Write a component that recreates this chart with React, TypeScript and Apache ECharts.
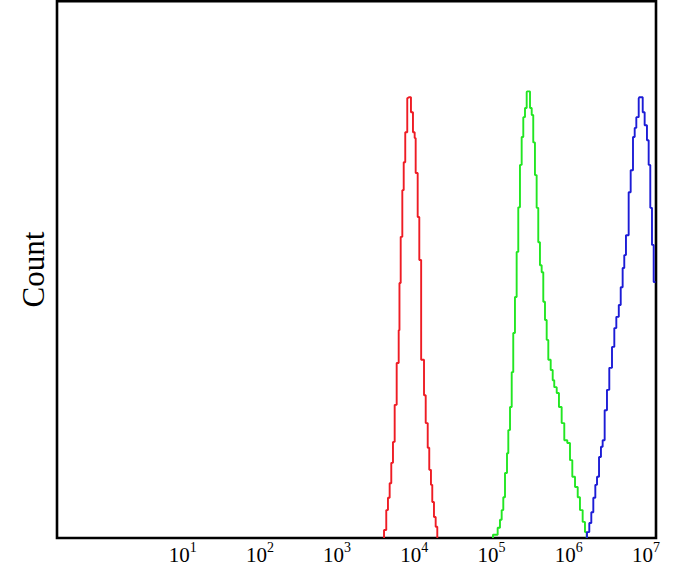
import React, { useEffect, useRef } from "react";
import * as echarts from "echarts";

// x values are log10(fluorescence intensity), y values are relative count
const xTickExponents = [1, 2, 3, 4, 5, 6, 7];
const xMinLog = -0.628;
const xMaxLog = 7.131;
const yMax = 100;

const redSeries: [number, number][] = [
  [3.608, 0], [3.608, 1.5], [3.637, 1.5], [3.637, 5.2], [3.659, 5.2], [3.659, 7.5],
  [3.681, 7.5], [3.681, 10.2], [3.702, 10.2], [3.702, 14.0], [3.724, 14.0], [3.724, 17.9],
  [3.746, 17.9], [3.746, 24.8], [3.772, 24.8], [3.772, 32.6], [3.798, 32.6], [3.798, 38.7],
  [3.808, 38.7], [3.808, 47.5], [3.824, 47.5], [3.824, 56.1], [3.845, 56.1], [3.845, 64.8],
  [3.863, 64.8], [3.863, 70.0], [3.883, 70.0], [3.883, 75.6], [3.909, 75.6], [3.909, 81.9],
  [3.931, 82.1], [3.957, 82.1], [3.957, 79.3], [3.983, 79.3], [3.983, 75.6], [4.005, 75.6],
  [4.005, 74.5], [4.018, 74.5], [4.018, 68.0], [4.044, 68.0], [4.044, 59.8], [4.065, 59.8],
  [4.065, 51.8], [4.089, 51.8], [4.089, 33.2], [4.126, 33.2], [4.126, 26.6], [4.148, 26.6],
  [4.148, 21.4], [4.174, 21.4], [4.174, 16.8], [4.194, 16.8], [4.194, 12.7], [4.216, 12.7],
  [4.216, 9.9], [4.233, 9.9], [4.233, 6.7], [4.255, 6.7], [4.255, 3.9], [4.277, 3.9],
  [4.277, 2.1], [4.298, 2.1], [4.298, 0],
];

const greenSeries: [number, number][] = [
  [5.019, 0], [5.019, 0.6], [5.08, 0.6], [5.08, 1.9], [5.11, 1.9], [5.11, 3.4],
  [5.132, 3.4], [5.132, 5.2], [5.153, 5.2], [5.153, 7.6], [5.175, 7.6], [5.175, 12.1],
  [5.201, 12.1], [5.201, 15.8], [5.218, 15.8], [5.218, 20.1], [5.24, 20.1], [5.24, 24.4],
  [5.262, 24.4], [5.262, 30.9], [5.282, 30.9], [5.282, 38.2], [5.304, 38.2], [5.304, 44.9],
  [5.326, 44.9], [5.326, 53.3], [5.347, 53.3], [5.347, 61.6], [5.369, 61.6], [5.369, 69.5],
  [5.391, 69.5], [5.391, 74.7], [5.412, 74.7], [5.412, 78.4], [5.434, 78.4], [5.434, 80.1],
  [5.456, 80.1], [5.456, 83.1], [5.469, 83.2], [5.499, 83.2], [5.499, 80.1], [5.521, 80.1],
  [5.521, 78.8], [5.541, 78.8], [5.541, 73.7], [5.563, 73.7], [5.563, 67.6], [5.585, 67.6],
  [5.585, 61.5], [5.606, 61.5], [5.606, 55.1], [5.628, 55.1], [5.628, 50.8], [5.65, 50.8],
  [5.65, 49.5], [5.671, 49.5], [5.671, 44.0], [5.693, 44.0], [5.693, 40.6], [5.715, 40.6],
  [5.715, 36.9], [5.736, 36.9], [5.736, 33.2], [5.767, 33.2], [5.767, 31.3], [5.793, 31.3],
  [5.793, 29.4], [5.813, 29.4], [5.813, 28.1], [5.845, 28.1], [5.845, 27.0], [5.874, 27.0],
  [5.874, 24.4], [5.909, 24.4], [5.909, 21.4], [5.943, 21.4], [5.943, 18.2], [5.982, 18.2],
  [5.982, 17.7], [6.017, 17.7], [6.017, 14.5], [6.047, 14.5], [6.047, 11.4], [6.082, 11.4],
  [6.082, 9.5], [6.117, 9.5], [6.117, 7.6], [6.146, 7.6], [6.146, 5.2], [6.181, 5.2],
  [6.181, 3.0], [6.211, 3.0], [6.211, 1.1], [6.233, 1.1], [6.233, 0],
];

const blueSeries: [number, number][] = [
  [6.237, 0], [6.237, 1.1], [6.267, 1.1], [6.267, 2.8], [6.293, 2.8], [6.293, 4.8],
  [6.319, 4.8], [6.319, 7.5], [6.345, 7.5], [6.345, 9.9], [6.367, 9.9], [6.367, 11.4],
  [6.393, 11.4], [6.393, 15.1], [6.418, 15.1], [6.418, 17.0], [6.44, 17.0], [6.44, 18.2],
  [6.466, 18.2], [6.466, 23.8], [6.496, 23.8], [6.496, 27.6], [6.526, 27.6], [6.526, 31.7],
  [6.561, 31.7], [6.561, 35.6], [6.591, 35.6], [6.591, 39.1], [6.617, 39.1], [6.617, 41.2],
  [6.649, 41.2], [6.649, 43.4], [6.674, 43.4], [6.674, 46.7], [6.699, 46.7], [6.699, 50.3],
  [6.72, 50.3], [6.72, 52.7], [6.742, 52.7], [6.742, 56.4], [6.777, 56.4], [6.777, 64.4],
  [6.803, 64.4], [6.803, 68.5], [6.833, 68.5], [6.833, 74.7], [6.855, 74.7], [6.855, 76.4],
  [6.876, 76.4], [6.876, 78.4], [6.907, 78.4], [6.907, 81.9], [6.915, 82.1], [6.959, 82.1],
  [6.959, 79.3], [6.984, 79.3], [6.984, 76.9], [7.014, 76.9], [7.014, 74.1], [7.036, 74.1],
  [7.036, 69.5], [7.057, 69.5], [7.057, 61.5], [7.079, 61.5], [7.079, 54.6], [7.101, 54.6],
  [7.101, 47.7], [7.124, 47.7],
];

const yAxisTitle = "Count";
const serif = "'Liberation Serif', 'DejaVu Serif', serif";

export default function App() {
  const ref = useRef<HTMLDivElement>(null);

  useEffect(() => {
    if (!ref.current) return;
    const chart = echarts.init(ref.current, null, { renderer: "svg" });
    const lineStyleFor = (color: string) => ({ color, width: 1.9 });
    chart.setOption({
      animation: false,
      backgroundColor: "#ffffff",
      grid: {
        show: true,
        left: 57,
        top: 1.2,
        right: 25,
        bottom: 40,
        borderColor: "#000000",
        borderWidth: 2.6,
        backgroundColor: "transparent",
      },
      xAxis: {
        type: "value",
        min: xMinLog,
        max: xMaxLog,
        axisLine: { show: false },
        axisTick: { show: false },
        splitLine: { show: false },
        axisLabel: {
          customValues: xTickExponents,
          margin: 2,
          formatter: (v: number) => `{b|10}{s|${Math.round(v)}}`,
          rich: {
            b: { fontSize: 21, fontFamily: serif, color: "#000", lineHeight: 25, verticalAlign: "bottom" },
            s: { fontSize: 14, fontFamily: serif, color: "#000", lineHeight: 15, verticalAlign: "top" },
          },
        },
      },
      yAxis: {
        type: "value",
        min: 0,
        max: yMax,
        axisLine: { show: false },
        axisTick: { show: false },
        splitLine: { show: false },
        axisLabel: { show: false },
        name: yAxisTitle,
        nameLocation: "middle",
        nameRotate: 90,
        nameGap: 8,
        nameTextStyle: { fontFamily: serif, fontSize: 31, color: "#000" },
      },
      series: [
        { type: "line", data: redSeries, showSymbol: false, lineStyle: lineStyleFor("#ee1c24"), silent: true },
        { type: "line", data: greenSeries, showSymbol: false, lineStyle: lineStyleFor("#22e622"), silent: true },
        { type: "line", data: blueSeries, showSymbol: false, lineStyle: lineStyleFor("#1c1cd6"), silent: true },
      ],
    });
    return () => chart.dispose();
  }, []);

  return (
    <div
      ref={ref}
      style={{ position: "fixed", left: 0, top: 0, width: 681, height: 578, background: "#fff" }}
    />
  );
}
